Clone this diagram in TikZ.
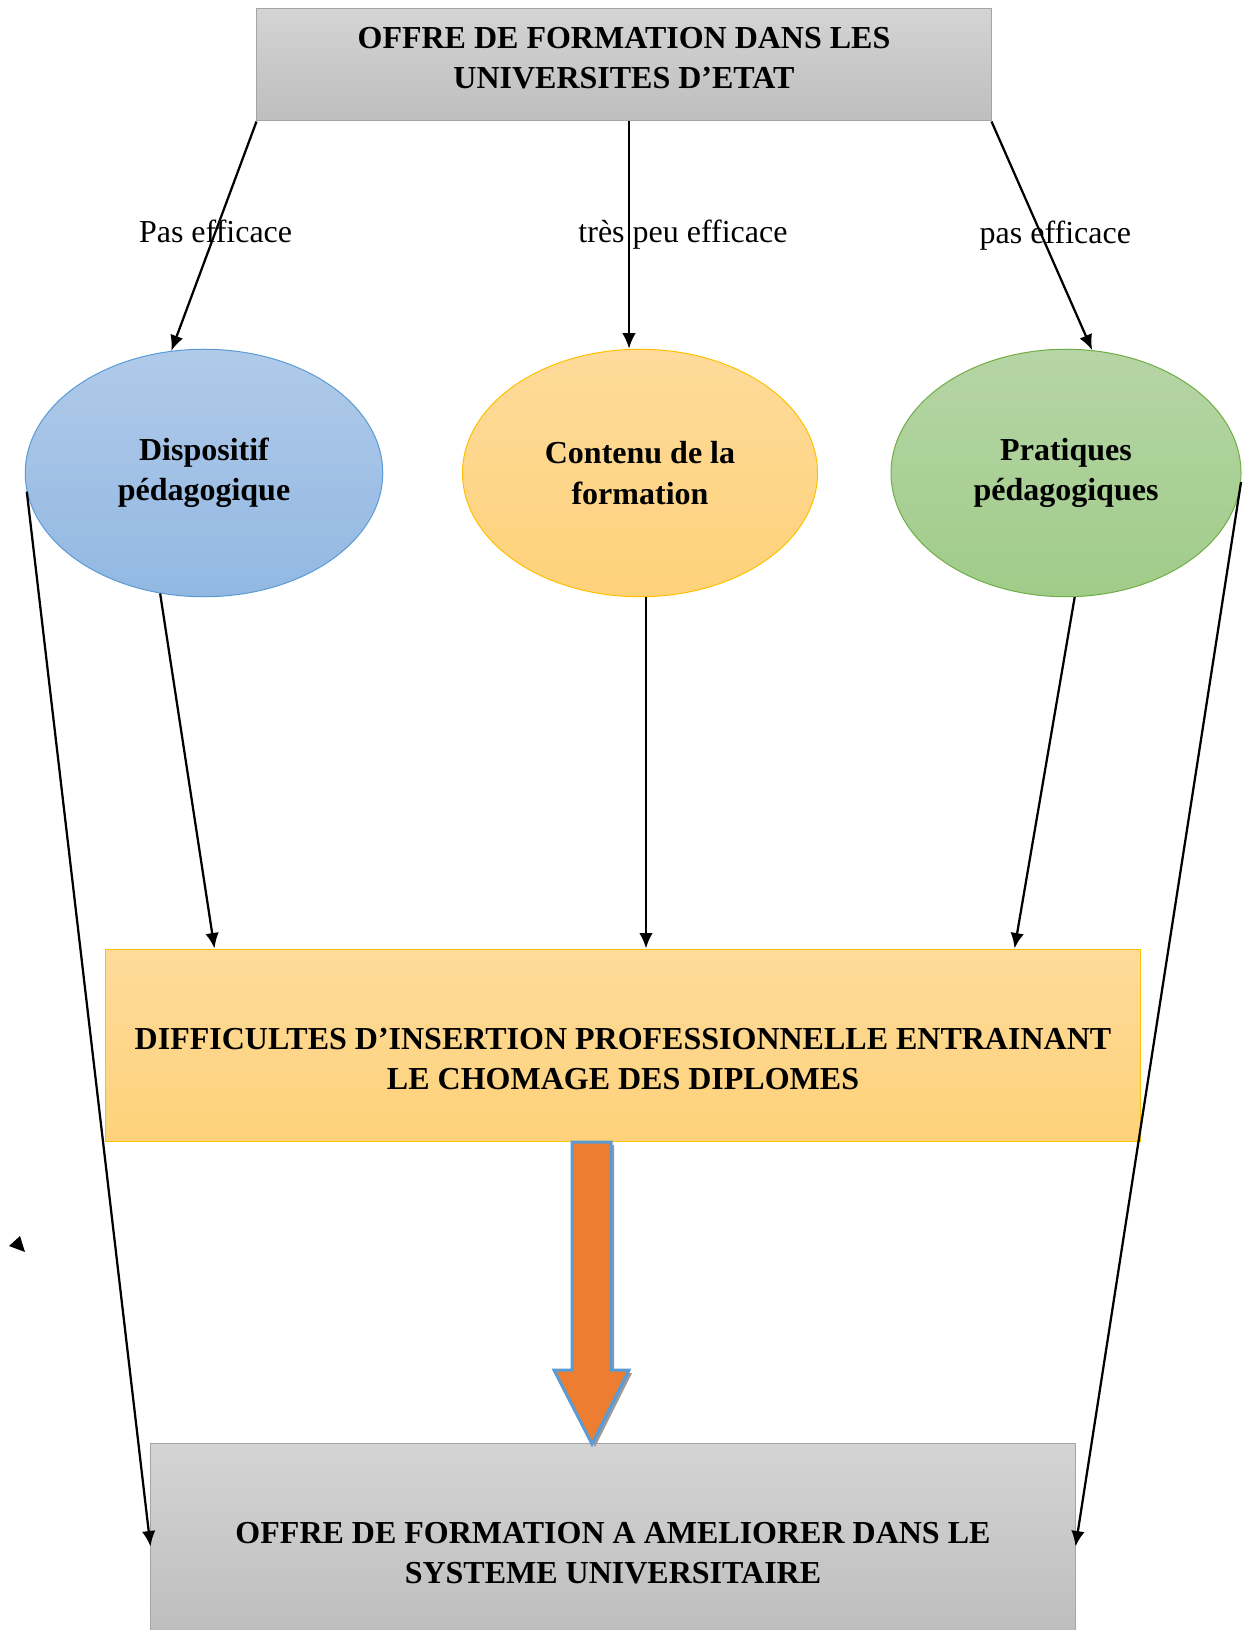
\documentclass[tikz,border=0pt]{standalone}
\usepackage{fontspec}
\setmainfont{Liberation Serif}
\usetikzlibrary{calc,arrows.meta,shapes.geometric}

\definecolor{grisbord}{RGB}{165,165,165}
\definecolor{grishaut}{RGB}{212,212,212}
\definecolor{grisbas}{RGB}{190,190,190}
\definecolor{bleuhaut}{RGB}{176,202,233}
\definecolor{bleubas}{RGB}{146,184,226}
\definecolor{bleubord}{RGB}{91,155,213}
\definecolor{orhaut}{RGB}{254,219,155}
\definecolor{orbas}{RGB}{254,210,122}
\definecolor{orbord}{RGB}{255,192,0}
\definecolor{verthaut}{RGB}{182,213,166}
\definecolor{vertbas}{RGB}{160,204,137}
\definecolor{vertbord}{RGB}{112,173,71}
\definecolor{orange}{RGB}{237,125,49}

\begin{document}
\begin{tikzpicture}[x=0.4pt, y=-0.4pt,
    texte/.style={font=\fontsize{12.8}{16.2}\selectfont\bfseries, align=center},
    etiq/.style={font=\fontsize{12.8}{16.2}\selectfont},
    cadre/.style={rectangle, draw=grisbord, line width=0.4pt, top color=grishaut, bottom color=grisbas, inner sep=0pt},
    bulle/.style={ellipse, minimum width=143pt, minimum height=99pt, inner sep=0pt, line width=0.4pt, texte},
    fleche/.style={-{Latex[length=6.2pt,width=5.4pt]}, line width=0.9pt}]
    \useasboundingbox (0,0) rectangle (1246,1630);

    % cadres
    \node[cadre, minimum width=293.6pt, minimum height=44.8pt] (offre) at (624,65) {};
    \node[texte] (offre-t) at (624,58) {OFFRE DE FORMATION DANS LES\\UNIVERSITES D’ETAT};
    \node[cadre, draw=orbord, top color=orhaut, bottom color=orbas, minimum width=413.6pt, minimum height=76.8pt] (diff) at (623,1045) {};
    \node[texte] (diff-t) at (623,1059) {DIFFICULTES D’INSERTION PROFESSIONNELLE ENTRAINANT\\LE CHOMAGE DES DIPLOMES};
    \node[cadre, minimum width=369.6pt, minimum height=75.6pt] (amel) at (613,1537.5) {};
    \node[texte] (amel-t) at (613,1553) {OFFRE DE FORMATION A AMELIORER DANS LE\\SYSTEME UNIVERSITAIRE};

    % bulles
    \node[bulle, draw=bleubord, top color=bleuhaut, bottom color=bleubas] (disp) at (204,473) {Dispositif\\pédagogique};
    \node[bulle, draw=orbord, top color=orhaut, bottom color=orbas, minimum width=142pt] (cont) at (640,473) {Contenu de la\\formation};
    \node[bulle, draw=vertbord, top color=verthaut, bottom color=vertbas, minimum width=140pt] (prat) at (1066,473) {Pratiques\\pédagogiques};

    % fleches du haut
    \coordinate (haut-m) at ($(offre.south)+(5,0)$);
    \coordinate (bas-m) at ($(cont.south)+(6,0)$);
    \draw[fleche] (offre.south west) -- (disp.105) node[etiq, pos=0.48] {Pas efficace};
    \draw[fleche] (haut-m) -- (haut-m |- cont.north) node[etiq, midway, xshift=21.6pt] {très peu efficace};
    \draw[fleche] (offre.south east) -- (prat.78) node[etiq, midway, xshift=5.4pt] {pas efficace};

    % fleches vers les difficultes
    \draw[fleche] (disp.250) -- ($(diff.north west)+(109,0)$);
    \draw[fleche] (bas-m) -- (bas-m |- diff.north);
    \draw[fleche] (prat.274) -- ($(diff.north east)+(-126,0)$);

    % longues fleches
    \draw[fleche] (disp.186) -- ($(amel.west)+(0,9)$);
    \draw[fleche] (prat.357) -- ($(amel.east)+(0,9)$);

    % grosse fleche
    \fill[gray!80] (575,1145) -- (614,1145) -- (614,1373) -- (632,1373) -- (595,1447) -- (557,1373) -- (575,1373) -- cycle;
    \draw[bleubord, fill=orange, line width=1.2pt] (572,1142) -- (611,1142) -- (611,1370) -- (629,1370) -- (592,1444) -- (554,1370) -- (572,1370) -- cycle;

    % pointe isolee
    \fill (9,1246) -- (20,1236) -- (25,1252) -- cycle;
\end{tikzpicture}
\end{document}
